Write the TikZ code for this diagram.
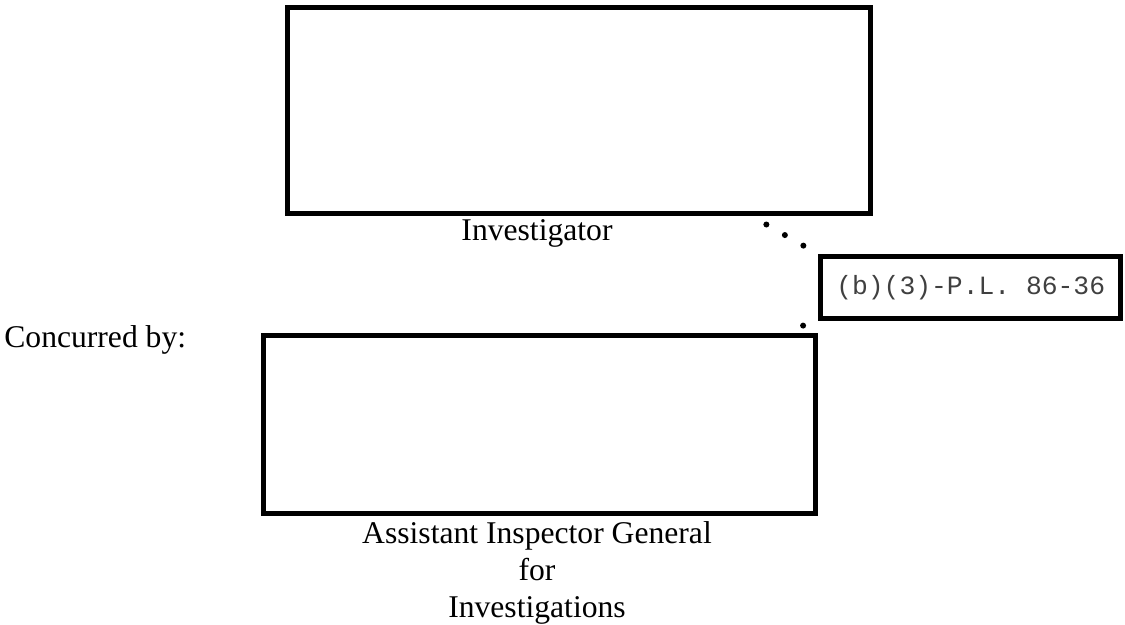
\documentclass[tikz,border=0pt]{standalone}
\usepackage{fontspec}
\setmainfont{Liberation Serif}
\setmonofont{Liberation Mono}
\usetikzlibrary{shapes,arrows,positioning,calc}

\begin{document}
\begin{tikzpicture}[x=0.02cm, y=-0.02cm,
    box/.style={draw, rectangle, line width=0.1cm, inner sep=0pt},
    caption/.style={font=\fontsize{18}{21}\selectfont, align=center, inner sep=0pt},
    dotline/.style={line width=0.12cm, line cap=round, dash pattern=on 0pt off 0.426cm, dash phase=#1}]
    \useasboundingbox (0,0) rectangle (1125,625);
    \node (invbox) [box, minimum width=11.65cm, minimum height=4.13cm] at (579,110.7) {};
    \node (aigbox) [box, minimum width=11.05cm, minimum height=3.58cm] at (539.4,424.5) {};
    \node (exemption) [box, minimum width=6.01cm, minimum height=1.25cm, font=\ttfamily\fontsize{15}{18}\selectfont, text=black!75] at (970.7,287.7) {(b)(3)-P.L. 86-36};
    \node (invlabel) [caption, anchor=base] at (537,240) {Investigator};
    \node (concur) [caption, anchor=base west] at (4,347) {Concurred by:};
    % base anchor sits on the last line
    \node (aiglabel) [caption, anchor=base] at (537,617) {Assistant Inspector General\\for\\Investigations};

    \draw [dotline=0.1cm] ([xshift=-2.41cm]invbox.south east) -- (exemption.north west);
    \draw [dotline=0.286cm] ([xshift=-0.28cm]aigbox.north east) -- ([xshift=-0.31cm]exemption.south west);
\end{tikzpicture}
\end{document}
